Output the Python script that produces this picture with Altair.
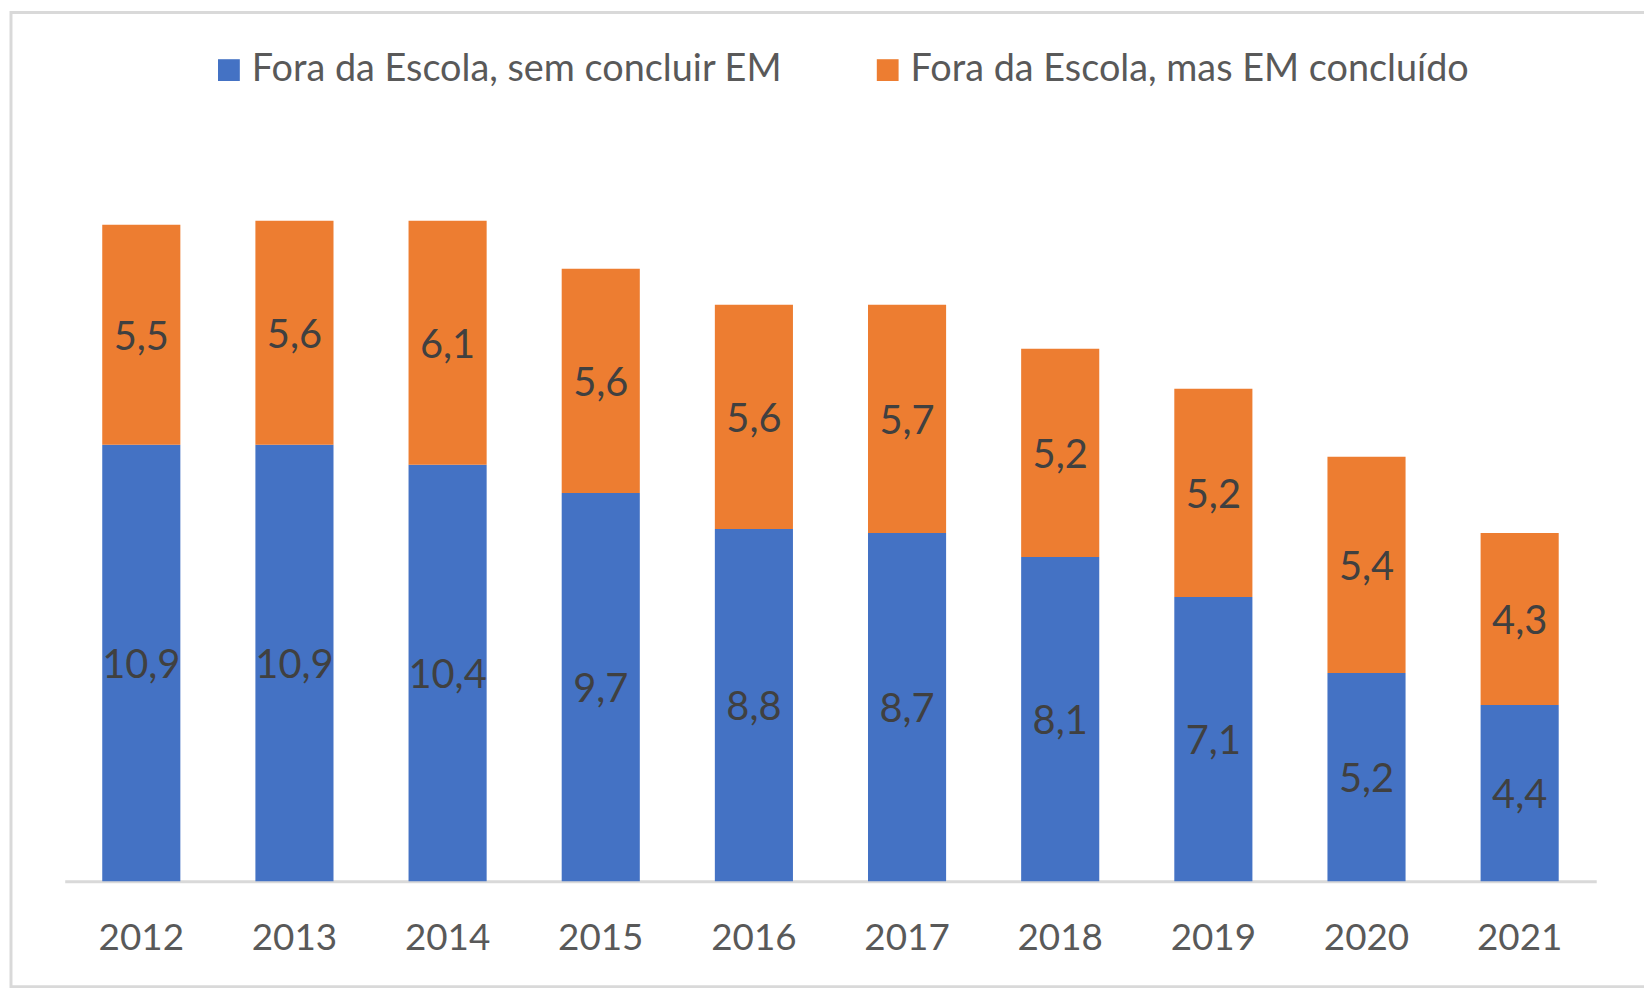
import altair as alt
import pandas as pd

years = ["2012", "2013", "2014", "2015", "2016", "2017", "2018", "2019", "2020", "2021"]
sem_concluir = [10.9, 10.9, 10.4, 9.7, 8.8, 8.7, 8.1, 7.1, 5.2, 4.4]
em_concluido = [5.5, 5.6, 6.1, 5.6, 5.6, 5.7, 5.2, 5.2, 5.4, 4.3]
series_names = ["Fora da Escola, sem concluir EM", "Fora da Escola, mas EM concluído"]
series_colors = ["#4472C4", "#ED7D31"]

rows = []
for i, yr in enumerate(years):
    rows.append({"year": yr, "serie": series_names[0], "ord": 0, "value": sem_concluir[i]})
    rows.append({"year": yr, "serie": series_names[1], "ord": 1, "value": em_concluido[i]})
df = pd.DataFrame(rows)

FONT = "Lato"

base = alt.Chart(df).transform_stack(
    stack="value", groupby=["year"], sort=[alt.SortField("ord", order="ascending")], as_=["v0", "v1"]
).transform_calculate(
    mid="(datum.v0 + datum.v1) / 2",
    label="replace(format(datum.value, '.1f'), '.', ',')",
)

xenc = alt.X(
    "year:N",
    sort=years,
    scale=alt.Scale(paddingInner=0.49, paddingOuter=0.245),
    axis=alt.Axis(
        title=None, labelAngle=0, ticks=False, domainColor="#D9D9D9", domainWidth=3,
        labelFont=FONT, labelFontSize=37, labelColor="#595959", labelPadding=40,
    ),
)

bars = base.mark_bar().encode(
    x=xenc,
    y=alt.Y("v0:Q", scale=alt.Scale(domain=[0, 18]), axis=None),
    y2="v1:Q",
    color=alt.Color(
        "serie:N",
        scale=alt.Scale(domain=series_names, range=series_colors),
        legend=alt.Legend(
            title=None, orient="none", legendX=146, legendY=-110, direction="horizontal",
            symbolType="square", symbolSize=480, symbolStrokeWidth=0,
            labelFont=FONT, labelFontSize=38, labelColor="#595959", labelLimit=800,
            columnPadding=86, labelOffset=4,
        ),
    ),
)

labels = base.mark_text(font=FONT, fontSize=40, color="#404040", baseline="middle", dy=3).encode(
    x=alt.X("year:N", sort=years),
    y=alt.Y("mid:Q"),
    text="label:N",
)

frame = alt.Chart(pd.DataFrame({"a": [0]})).mark_rect(
    filled=False, stroke="#D9D9D9", strokeWidth=3
).encode(x=alt.value(-54), x2=alt.value(1620), y=alt.value(-149), y2=alt.value(830))

chart = alt.layer(frame, bars, labels).properties(
    width=1539, height=724,
    padding={"left": 57, "top": 151, "right": 48, "bottom": 111},
    autosize=alt.AutoSizeParams(type="none"),
).configure_view(stroke=None)

chart.save("out.html", embed_options={"renderer": "svg", "actions": False})
